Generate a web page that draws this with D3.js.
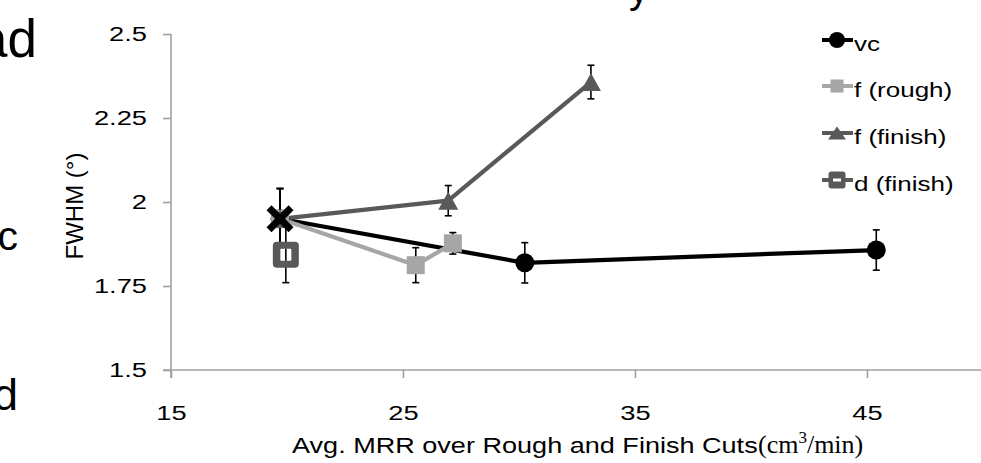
<!DOCTYPE html>
<html><head><meta charset="utf-8">
<script src="https://cdn.jsdelivr.net/npm/d3@7"></script>
<style>body{margin:0;background:#fff}svg{display:block}text{font-family:"Liberation Sans",Arial,sans-serif;fill:#000}</style>
</head><body>
<svg id="c" width="981" height="463"></svg>
<script>
// ---- data ----
const xTicks = [15, 25, 35, 45];
const yTicks = [1.5, 1.75, 2, 2.25, 2.5];
const seriesNames = ["vc", "f (rough)", "f (finish)", "d (finish)"];
const vcX = [19.7, 30.25, 45.4];
const vcY = [1.95, 1.819, 1.857];
const vcErr = [0.09, 0.06, 0.06];
const fRoughX = [19.7, 25.55, 27.15];
const fRoughY = [1.95, 1.812, 1.877];
const fRoughErr = [0.09, 0.052, 0.032];
const fFinishX = [19.7, 26.95, 33.1];
const fFinishY = [1.95, 2.004, 2.357];
const fFinishErr = [0.09, 0.045, 0.05];
const dFinishX = [19.95];
const dFinishY = [1.843];
const dFinishErr = [0.083];
const crossX = [19.7];
const crossY = [1.95];

const SX = 1.3;
const svg = d3.select("#c");
const x = d3.scaleLinear().domain([15, 50]).range([171, 983]);
const y = d3.scaleLinear().domain([1.5, 2.5]).range([370, 34]);
const axisCol = "#a0a0a0";

function stext(g, px, py, str, size, anchor, sx) {
  return g.append("text").attr("transform", `translate(${px},${py}) scale(${sx || SX},1)`)
    .attr("text-anchor", anchor || "start").style("font-size", size + "px").text(str);
}

// cropped fragments from neighbouring content
stext(svg, 37, 57, "ad", 53, "end", 1);
stext(svg, 18, 250, "c", 41, "end", 1);
stext(svg, 18, 410, "d", 45, "end", 1);
stext(svg, 629, 3, "y", 40, "start", 1);

// axes
const gy = svg.append("g").attr("transform", "translate(171,0)")
  .call(d3.axisLeft(y).tickValues(yTicks).tickSize(8).tickPadding(16).tickFormat(d3.format("")));
gy.select(".domain").attr("stroke", axisCol).attr("stroke-width", 1.6).attr("d", "M0,34V378");
gy.selectAll(".tick line").attr("stroke", axisCol).attr("stroke-width", 1.6);
gy.selectAll(".tick text").attr("x", -24 / SX).attr("transform", `scale(${SX},1)`)
  .style("font-size", "21px").attr("font-family", null);

const gx = svg.append("g").attr("transform", "translate(0,370)")
  .call(d3.axisBottom(x).tickValues(xTicks).tickSize(8).tickPadding(27));
gx.select(".domain").attr("stroke", axisCol).attr("stroke-width", 1.6).attr("d", "M163,0H981");
gx.selectAll(".tick line").attr("stroke", axisCol).attr("stroke-width", 1.6);
gx.selectAll(".tick text").attr("transform", `scale(${SX},1)`).attr("dy", "0.71em")
  .style("font-size", "21px").attr("font-family", null);

// axis titles
svg.append("text").attr("transform", "translate(83,206) rotate(-90)")
  .attr("text-anchor", "middle").style("font-size", "24px").text("FWHM (°)");
stext(svg, 292, 453, "Avg. MRR over Rough and Finish Cuts", 22, "start", 1.23);
const t2 = svg.append("text").attr("x", 758).attr("y", 453)
  .style("font-family", "'Liberation Serif','Times New Roman',serif").style("font-size", "26px");
t2.append("tspan").text("(cm");
t2.append("tspan").attr("dy", -10).style("font-size", "17px").text("3");
t2.append("tspan").attr("dy", 10).text("/min)");

// series
const series = [
  {xs: vcX, ys: vcY, es: vcErr, color: "#000000", mk: "circle"},
  {xs: fRoughX, ys: fRoughY, es: fRoughErr, color: "#a6a6a6", mk: "square"},
  {xs: fFinishX, ys: fFinishY, es: fFinishErr, color: "#595959", mk: "triangle"},
  {xs: dFinishX, ys: dFinishY, es: dFinishErr, color: "#595959", mk: "dsq"}
];
const line = d3.line().x(d => x(d[0])).y(d => y(d[1]));
const pts = s => s.xs.map((v, i) => [v, s.ys[i], s.es[i]]);

series.forEach(s => {
  if (s.xs.length > 1)
    svg.append("path").attr("d", line(pts(s))).attr("fill", "none")
      .attr("stroke", s.color).attr("stroke-width", 4.2).attr("stroke-linejoin", "round");
});
series.forEach(s => {
  pts(s).forEach(p => {
    const cx = x(p[0]), y1 = y(p[1] + p[2]), y2 = y(p[1] - p[2]);
    const g = svg.append("g").attr("stroke", "#000").attr("stroke-width", 1.6);
    g.append("line").attr("x1", cx).attr("x2", cx).attr("y1", y1).attr("y2", y2);
    g.append("line").attr("x1", cx - 3.5).attr("x2", cx + 3.5).attr("y1", y1).attr("y2", y1);
    g.append("line").attr("x1", cx - 3.5).attr("x2", cx + 3.5).attr("y1", y2).attr("y2", y2);
  });
});

function marker(g, type, cx, cy, color, legend) {
  if (type === "circle") g.append("circle").attr("cx", cx).attr("cy", cy).attr("r", legend ? 8 : 9.5).attr("fill", color);
  else if (type === "square") {
    const s = legend ? 13 : 18;
    g.append("rect").attr("x", cx - s / 2).attr("y", cy - s / 2).attr("width", s).attr("height", s).attr("fill", color);
  } else if (type === "triangle") {
    const h = legend ? 13 : 18, w = legend ? 18 : 20;
    g.append("path").attr("d", `M${cx},${cy - h / 2}L${cx + w / 2},${cy + h / 2}L${cx - w / 2},${cy + h / 2}Z`).attr("fill", color);
  } else if (type === "dsq") {
    const s = legend ? 17 : 26;
    g.append("rect").attr("x", cx - s / 2).attr("y", cy - s / 2).attr("width", s).attr("height", s)
      .attr("rx", legend ? 3 : 4).attr("fill", color);
    if (legend) g.append("rect").attr("x", cx - 4).attr("y", cy - 1.5).attr("width", 8).attr("height", 3).attr("fill", "#fff");
    else g.append("rect").attr("x", cx - 5.5).attr("y", cy - 6).attr("width", 11).attr("height", 12).attr("rx", 1).attr("fill", "#fff");
  } else if (type === "cross") {
    const r = 11;
    g.append("path").attr("d", `M${cx - r},${cy - r}L${cx + r},${cy + r}M${cx - r},${cy + r}L${cx + r},${cy - r}`)
      .attr("stroke", color).attr("stroke-width", 7).attr("fill", "none");
  }
}
series.forEach(s => {
  const g = svg.append("g");
  pts(s).forEach(p => marker(g, s.mk, x(p[0]), y(p[1]), s.color, false));
});
// error bar visible through the hollow centre of the d (finish) marker
pts(series[3]).forEach(p => {
  const cx = x(p[0]);
  svg.append("line").attr("x1", cx).attr("x2", cx).attr("y1", y(p[1]) - 6).attr("y2", y(p[1]) + 6)
    .attr("stroke", "#000").attr("stroke-width", 1.6);
});
crossX.forEach((v, i) => marker(svg.append("g"), "cross", x(v), y(crossY[i]), "#000", false));

// legend
const legY = [40, 86, 133, 180];
series.forEach((s, i) => {
  const g = svg.append("g");
  g.append("line").attr("x1", 822).attr("x2", 853).attr("y1", legY[i]).attr("y2", legY[i])
    .attr("stroke", s.color).attr("stroke-width", 4);
  marker(g, s.mk, 837, legY[i], s.color, true);
  stext(g, 854, legY[i] + 10.5, seriesNames[i], 20, "start");
});
</script>
</body></html>
